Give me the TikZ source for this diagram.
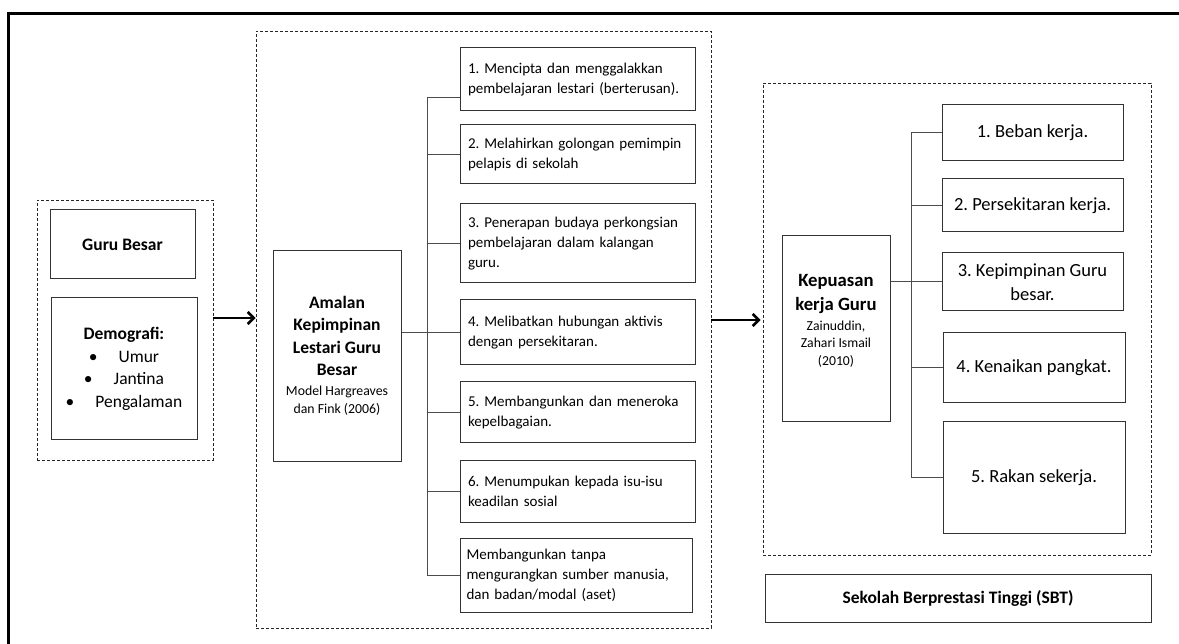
\documentclass[tikz,border=0pt]{standalone}
\usepackage{fontspec}
\setmainfont{Carlito}
\usetikzlibrary{arrows.meta,calc}
\newcommand{\hdf}{\fontsize{17.5}{22.5}\selectfont\bfseries}
\newcommand{\ctf}{\fontsize{13.8}{18}\selectfont\mdseries}
\newcommand{\khf}{\fontsize{18.7}{24}\selectfont\bfseries}
\newcommand{\kcf}{\fontsize{13.7}{17.5}\selectfont\mdseries}
\begin{document}
\frenchspacing
\begin{tikzpicture}[x=1pt,y=-1pt,
  box/.style={draw=black!80, line width=1pt, inner sep=0pt, align=center},
  dbox/.style={draw=black!85, line width=0.9pt, dash pattern=on 3pt off 2pt, inner sep=0pt},
  conn/.style={draw=black!70, line width=1pt},
  arr/.style={line width=2.6pt, -{Straight Barb[length=6pt,width=12pt]}},
  itemtxt/.style={box, minimum width=235pt, text width=219pt, align=left, font=\fontsize{15}{20}\selectfont},
  ritem/.style={box, minimum width=181pt, font=\fontsize{18.5}{24}\selectfont},
  head/.style={font=\fontsize{17.5}{22.5}\selectfont\bfseries}
]
\useasboundingbox (0,0) rectangle (1179,644);
% outer frame (only top and left sides visible)
\draw[line width=3.5pt, line join=miter] (1179,13.5) -- (8.5,13.5) -- (8.5,644);

% dashed groups
\node[dbox, minimum width=176pt, minimum height=260pt] (ldash) at (125,330) {};
\node[dbox, minimum width=455pt, minimum height=597pt] (mdash) at (483.5,329.5) {};
\node[dbox, minimum width=388pt, minimum height=472pt] (rdash) at (957,319) {};

% left group
\node[box, head, minimum width=145pt, minimum height=69pt] (guru) at (122.5,244.5) {Guru Besar};
\node[box, minimum width=146pt, minimum height=142pt, font=\fontsize{17.5}{22.5}\selectfont] (demo) at (124,369)
  {\textbf{Demografi:}\\\textbullet\hspace{21pt}Umur\\\textbullet\hspace{21pt}Jantina\\\textbullet\hspace{21pt}Pengalaman};

% middle group
\node[box, minimum width=128pt, minimum height=210pt, font=\hdf] (amalan) at (337,356)
  {Amalan\\Kepimpinan\\Lestari Guru\\Besar\\[-2.5pt]\ctf Model Hargreaves\\[-4.5pt]\ctf dan Fink (2006)};

\node[itemtxt, minimum height=63pt] (i1) at (577.5,79.5) {1. Mencipta dan menggalakkan\\pembelajaran lestari (berterusan).};
\node[itemtxt, minimum height=59pt] (i2) at (577.5,154.5) {2. Melahirkan golongan pemimpin\\pelapis di sekolah};
\node[itemtxt, minimum height=79pt] (i3) at (577.5,243.5) {3. Penerapan budaya perkongsian\\pembelajaran dalam kalangan\\guru.};
\node[itemtxt, minimum height=65pt] (i4) at (577.5,332.5) {4. Melibatkan hubungan aktivis\\dengan persekitaran.};
\node[itemtxt, minimum height=61pt] (i5) at (577.5,412.5) {5. Membangunkan dan meneroka\\kepelbagaian.};
\node[itemtxt, minimum height=62pt] (i6) at (577.5,491) {6. Menumpukan kepada isu-isu\\keadilan sosial};
\node[itemtxt, minimum width=232pt, minimum height=74pt] (i7) at (576,575) {Membangunkan tanpa\\mengurangkan sumber manusia,\\dan badan/modal (aset)};

\coordinate (mtrunk) at (427,0);
\draw[conn] (mtrunk |- 0,98) -- (mtrunk |- i7.west);
\draw[conn] (mtrunk |- 0,98) -- (i1.west |- 0,98);
\foreach \n in {i2,i3,i4,i5,i6,i7} \draw[conn] (mtrunk |- \n.west) -- (\n.west);
\draw[conn] (amalan.east |- i4.west) -- (mtrunk |- i4.west);

% right group
\node[box, minimum width=108pt, minimum height=186pt] (kep) at (836,329) {};
\node[align=center, inner sep=0pt, font=\khf] (keptxt) at (836,321)
  {Kepuasan\\kerja Guru\\[-4pt]\kcf Zainuddin,\\[-7pt]\kcf Zahari Ismail\\[-6pt]\kcf (2010)};

\node[ritem, minimum height=56pt] (r1) at (1032.5,133) {1. Beban kerja.};
\node[ritem, minimum height=53pt] (r2) at (1032.5,205.5) {2. Persekitaran kerja.};
\node[ritem, minimum height=58pt] (r3) at (1032.5,282) {3. Kepimpinan Guru\\besar.};
\node[ritem, minimum width=182pt, minimum height=70pt] (r4) at (1034,368) {4. Kenaikan pangkat.};
\node[ritem, minimum width=182pt, minimum height=111pt] (r5) at (1034,477.5) {5. Rakan sekerja.};

\coordinate (rtrunk) at (911,0);
\draw[conn] (rtrunk |- r1.west) -- (rtrunk |- r5.west);
\foreach \n in {r1,r2,r3,r4,r5} \draw[conn] (rtrunk |- \n.west) -- (\n.west);
\draw[conn] (kep.east |- r3.west) -- (rtrunk |- r3.west);

\node[box, head, minimum width=386pt, minimum height=48pt] (sbt) at (958,598) {Sekolah Berprestasi Tinggi (SBT)};

% arrows
\coordinate (a1) at (0,318);
\coordinate (a2) at (0,320);
\draw[arr] (ldash.east |- a1) -- (mdash.west |- a1);
\draw[arr] (mdash.east |- a2) -- ([xshift=-2pt]rdash.west |- a2);
\end{tikzpicture}
\end{document}
